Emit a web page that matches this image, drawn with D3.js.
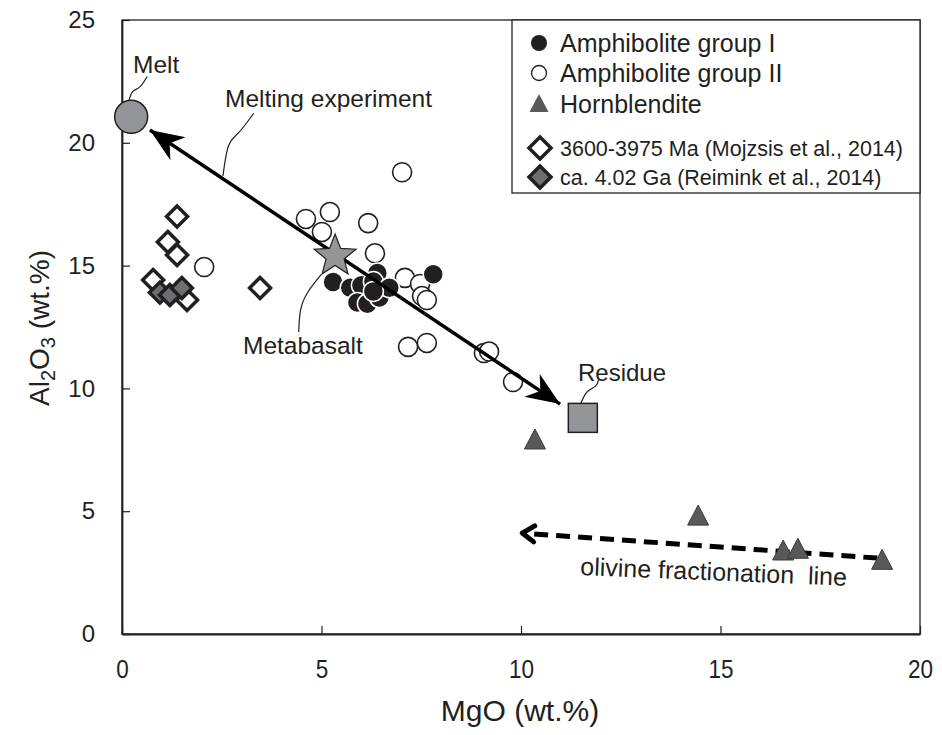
<!DOCTYPE html>
<html><head><meta charset="utf-8">
<script src="https://cdn.jsdelivr.net/npm/d3@7"></script>
<style>body{margin:0;background:#fff}svg{display:block}text{font-family:"Liberation Sans",Arial,sans-serif;fill:#231f20}</style>
</head><body>
<svg id="c" width="942" height="735"></svg>
<script>
const xTicks = [0, 5, 10, 15, 20];
const yTicks = [0, 5, 10, 15, 20, 25];
const groupI = [[5.29,14.33],[5.72,14.1],[6.0,14.2],[5.9,13.5],[6.15,13.45],[6.4,14.7],[6.3,14.35],[6.45,13.7],[6.7,14.1],[6.3,13.95],[7.8,14.65]];
const groupII = [[7.02,18.8],[4.61,16.9],[5.21,17.18],[5.01,16.37],[6.17,16.73],[6.34,15.5],[2.06,14.94],[7.09,14.5],[7.47,14.25],[7.52,13.76],[7.64,13.6],[7.17,11.69],[7.64,11.85],[9.07,11.44],[9.2,11.5],[9.8,10.26]];
const hornblendite = [[10.35,7.9],[14.44,4.8],[16.57,3.38],[16.94,3.45],[19.05,3.0]];
const mojzsis = [[1.38,17.0],[1.15,15.96],[1.38,15.43],[0.78,14.41],[1.63,13.6],[3.46,14.09]];
const reimink = [[0.95,13.9],[1.2,13.8],[1.5,14.09]];
const melt = [0.23, 21.06];
const metabasalt = [5.34, 15.43];
const residue = [11.55, 8.8];
const meltingArrow = [[0.7,20.52],[10.98,9.36]];
const olivineArrow = [[18.93,3.09],[10.03,4.11]];
const legendItems = ["Amphibolite group I","Amphibolite group II","Hornblendite","3600-3975 Ma (Mojzsis et al., 2014)","ca. 4.02 Ga (Reimink et al., 2014)"];

const svg = d3.select("#c");
const x = d3.scaleLinear().domain([0,20]).range([122,920]);
const y = d3.scaleLinear().domain([0,25]).range([634,20]);
const ink = "#231f20";

// frame
svg.append("rect").attr("x",x(0)).attr("y",y(25)).attr("width",x(20)-x(0)).attr("height",y(0)-y(25))
  .attr("fill","none").attr("stroke",ink).attr("stroke-width",1.3);

// axes
const xa = svg.append("g").attr("transform",`translate(0,${y(0)})`)
  .call(d3.axisBottom(x).tickValues(xTicks).tickSizeInner(-8).tickSizeOuter(0).tickPadding(34).tickFormat(d3.format("d")));
xa.attr("font-size",null).attr("font-family",null);
xa.select(".domain").attr("stroke",ink).attr("stroke-width",1.8);
xa.selectAll(".tick line").attr("stroke",ink).attr("stroke-width",1.2);
xa.selectAll(".tick text").attr("fill",ink).attr("dy",null).attr("y",44)
  .attr("font-size",25).style("font-size","25px").attr("transform","scale(0.9,1)");
const ya = svg.append("g").attr("transform",`translate(${x(0)},0)`)
  .call(d3.axisLeft(y).tickValues(yTicks).tickSizeInner(-8).tickSizeOuter(0).tickPadding(35).tickFormat(d3.format("d")));
ya.attr("font-size",null).attr("font-family",null);
ya.select(".domain").attr("stroke",ink).attr("stroke-width",1.8);
ya.selectAll(".tick line").attr("stroke",ink).attr("stroke-width",1.2);
ya.selectAll(".tick text").style("font-size","24px").attr("fill",ink).attr("x",-27);

// axis titles
svg.append("text").attr("x",520).attr("y",721).attr("text-anchor","middle").attr("font-size",30).text("MgO (wt.%)");
const yt = svg.append("text").attr("transform","translate(49,328) rotate(-90)").attr("text-anchor","middle").attr("font-size",28);
yt.append("tspan").text("Al");
yt.append("tspan").attr("font-size",20).attr("dy",6).text("2");
yt.append("tspan").attr("dy",-6).text("O");
yt.append("tspan").attr("font-size",20).attr("dy",6).text("3");
yt.append("tspan").attr("dy",-6).text(" (wt.%)");

// markers
const defs = svg.append("defs");
defs.append("marker").attr("id","ah").attr("markerUnits","userSpaceOnUse").attr("markerWidth",40).attr("markerHeight",40)
  .attr("viewBox","-30 -15 32 30").attr("refX",0).attr("refY",0).attr("orient","auto-start-reverse")
  .append("path").attr("d","M0,0 L-27,-11 L-19,0 L-27,11 Z").attr("fill","#000");
defs.append("marker").attr("id","ch").attr("markerUnits","userSpaceOnUse").attr("markerWidth",30).attr("markerHeight",30)
  .attr("viewBox","-20 -15 25 30").attr("refX",0).attr("refY",0).attr("orient","auto")
  .append("path").attr("d","M-12,-8 L0,0 L-12,8").attr("fill","none").attr("stroke","#000").attr("stroke-width",5).attr("stroke-linecap","round").attr("stroke-linejoin","round");

const line = d3.line().x(d=>x(d[0])).y(d=>y(d[1]));

// olivine dashed arrow
svg.append("path").attr("d",line(olivineArrow)).attr("fill","none").attr("stroke","#000").attr("stroke-width",5)
  .attr("stroke-dasharray","14,8").attr("marker-end","url(#ch)");

// hornblendite
const tri = (cx,cy,w,h)=>`M${cx},${cy-h*0.55} L${cx+w/2},${cy+h*0.45} L${cx-w/2},${cy+h*0.45} Z`;
svg.append("g").selectAll("path").data(hornblendite).join("path")
  .attr("d",d=>tri(x(d[0]),y(d[1]),21,20)).attr("fill","#58595b").attr("stroke","#3a3a3c").attr("stroke-width",1);

// diamonds
const dia = (cx,cy,r)=>`M${cx},${cy-r} L${cx+r},${cy} L${cx},${cy+r} L${cx-r},${cy} Z`;
svg.append("g").selectAll("path").data(mojzsis).join("path")
  .attr("d",d=>dia(x(d[0]),y(d[1]),10.5)).attr("fill","#fff").attr("stroke",ink).attr("stroke-width",3.5);
svg.append("g").selectAll("path").data(reimink).join("path")
  .attr("d",d=>dia(x(d[0]),y(d[1]),10.5)).attr("fill","#6d6e71").attr("stroke",ink).attr("stroke-width",3.5);

// amphibolites
svg.append("g").selectAll("circle").data(groupII).join("circle")
  .attr("cx",d=>x(d[0])).attr("cy",d=>y(d[1])).attr("r",9.5).attr("fill","#fff").attr("stroke",ink).attr("stroke-width",1.6);
svg.append("g").selectAll("circle").data(groupI).join("circle")
  .attr("cx",d=>x(d[0])).attr("cy",d=>y(d[1])).attr("r",10).attr("fill",ink).attr("stroke","#fff").attr("stroke-width",1.5);

// melting experiment arrow
svg.append("path").attr("d",line(meltingArrow)).attr("fill","none").attr("stroke","#000").attr("stroke-width",3.5)
  .attr("marker-start","url(#ah)").attr("marker-end","url(#ah)");

// melt, star, residue
svg.append("circle").attr("cx",x(melt[0])).attr("cy",y(melt[1])).attr("r",16.5).attr("fill","#939598").attr("stroke",ink).attr("stroke-width",1.5);
const star = (cx,cy,R,r)=>{ let p=[]; for(let i=0;i<10;i++){const a=-Math.PI/2+i*Math.PI/5; const rr=i%2?r:R; p.push([cx+rr*Math.cos(a),cy+rr*Math.sin(a)]);} return "M"+p.map(q=>q.join(",")).join("L")+"Z"; };
svg.append("path").attr("d",star(x(metabasalt[0]),y(metabasalt[1])+1,22,9.5)).attr("fill","#939598").attr("stroke",ink).attr("stroke-width",1.2);
svg.append("rect").attr("x",x(residue[0])-14.5).attr("y",y(residue[1])-14.5).attr("width",29).attr("height",29)
  .attr("fill","#939598").attr("stroke",ink).attr("stroke-width",1.5);

// leader lines (data units)
const leaders = [
  [[0.18,21.75],[0.25,22.15],[0.45,22.2],[0.63,22.7]],
  [[2.53,18.65],[2.65,20.1],[2.9,20.3],[3.3,21.2]],
  [[5.0,14.65],[4.6,13.85],[4.45,13.2],[4.43,12.3]],
  [[11.5,9.4],[11.65,9.95],[11.9,10.05],[11.95,10.4]]
];
const lc = d3.line().x(d=>x(d[0])).y(d=>y(d[1])).curve(d3.curveBasis);
svg.append("g").selectAll("path").data(leaders).join("path").attr("d",lc).attr("fill","none").attr("stroke",ink).attr("stroke-width",1.2);

// annotations
svg.append("text").attr("x",133).attr("y",73).attr("font-size",24.5).text("Melt");
svg.append("text").attr("x",225).attr("y",107).attr("font-size",24.5).text("Melting experiment");
svg.append("text").attr("x",243).attr("y",354).attr("font-size",24.5).text("Metabasalt");
svg.append("text").attr("x",578).attr("y",381).attr("font-size",24).text("Residue");
svg.append("text").attr("transform","translate(580,575) rotate(2.3)").attr("font-size",25).style("white-space","pre").text("olivine fractionation  line");

// legend
const lg = svg.append("g");
lg.append("rect").attr("x",512).attr("y",20).attr("width",408).attr("height",173).attr("fill","#fff").attr("stroke",ink).attr("stroke-width",1.3);
const ly = [43,73,104,148,177];
lg.append("circle").attr("cx",539).attr("cy",ly[0]).attr("r",8).attr("fill",ink);
lg.append("circle").attr("cx",539).attr("cy",ly[1]).attr("r",7.5).attr("fill","#fff").attr("stroke",ink).attr("stroke-width",1.3);
lg.append("path").attr("d",tri(539,ly[2],19,18)).attr("fill","#58595b");
lg.append("path").attr("d",dia(540,ly[3],11)).attr("fill","#fff").attr("stroke",ink).attr("stroke-width",3.5);
lg.append("path").attr("d",dia(540,ly[4],11)).attr("fill","#6d6e71").attr("stroke",ink).attr("stroke-width",3.5);
lg.selectAll("text").data(legendItems).join("text").attr("x",560).attr("y",(d,i)=>ly[i]+(i<3?8.5:7.5))
  .attr("font-size",(d,i)=>i<3?25:21.5).text(d=>d);
</script>
</body></html>
